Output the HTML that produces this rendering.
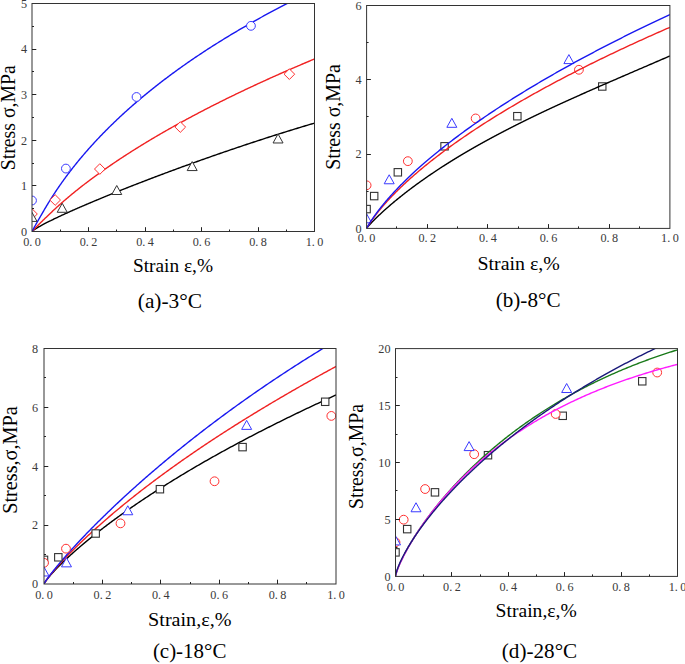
<!DOCTYPE html>
<html><head><meta charset="utf-8"><style>
html,body{margin:0;padding:0;background:#fff;}
body{width:685px;height:664px;overflow:hidden;}
svg{display:block;}
.tl{font-family:"Liberation Serif",serif;font-size:12.2px;fill:#3a3a3a;}
.tt{font-family:"Liberation Serif",serif;font-size:20px;fill:#000;}
</style></head><body>
<svg width="685" height="664" viewBox="0 0 685 664"><rect width="100%" height="100%" fill="#fff"/><clipPath id="clipa"><rect x="32.0" y="3.5" width="282.5" height="228.0"/></clipPath><g clip-path="url(#clipa)"><path d="M32.00 231.50 L32.03 231.45 L32.09 231.38 L32.18 231.29 L32.28 231.19 L32.40 231.09 L32.54 230.97 L32.69 230.84 L32.86 230.71 L33.03 230.58 L33.22 230.43 L33.43 230.29 L33.64 230.13 L33.86 229.98 L34.10 229.81 L34.34 229.65 L34.60 229.48 L34.86 229.30 L35.13 229.12 L35.42 228.94 L35.71 228.76 L36.01 228.57 L36.32 228.38 L36.64 228.18 L36.97 227.98 L37.30 227.78 L37.64 227.58 L38.00 227.37 L38.35 227.16 L38.72 226.95 L39.10 226.73 L39.48 226.52 L39.87 226.30 L40.27 226.07 L40.67 225.85 L41.08 225.62 L41.50 225.39 L41.93 225.16 L42.36 224.92 L42.80 224.69 L43.24 224.45 L43.70 224.21 L44.16 223.96 L44.62 223.72 L45.10 223.47 L45.58 223.22 L46.06 222.97 L46.55 222.71 L47.05 222.46 L47.56 222.20 L48.07 221.94 L48.59 221.68 L49.11 221.42 L49.64 221.15 L50.17 220.88 L50.72 220.62 L51.26 220.34 L51.82 220.07 L52.38 219.80 L52.94 219.52 L53.51 219.25 L54.09 218.97 L54.67 218.69 L55.26 218.40 L55.85 218.12 L56.45 217.83 L57.06 217.55 L57.67 217.26 L58.28 216.97 L58.90 216.67 L59.53 216.38 L60.16 216.09 L60.80 215.79 L61.44 215.49 L62.09 215.19 L62.74 214.89 L63.40 214.59 L64.06 214.28 L64.73 213.97 L65.41 213.67 L66.09 213.36 L66.77 213.05 L67.46 212.74 L68.15 212.42 L68.85 212.11 L69.56 211.79 L70.27 211.47 L70.98 211.15 L71.70 210.83 L72.42 210.51 L73.15 210.19 L73.89 209.86 L74.63 209.54 L75.37 209.21 L76.12 208.88 L76.87 208.55 L77.63 208.22 L78.39 207.89 L79.16 207.55 L79.93 207.22 L80.71 206.88 L81.49 206.54 L82.28 206.20 L83.07 205.86 L83.87 205.52 L84.67 205.18 L85.47 204.83 L86.28 204.49 L87.09 204.14 L87.91 203.79 L88.74 203.44 L89.56 203.09 L90.39 202.74 L91.23 202.39 L92.07 202.04 L92.92 201.68 L93.77 201.32 L94.62 200.97 L95.48 200.61 L96.34 200.25 L97.21 199.89 L98.08 199.52 L98.96 199.16 L99.84 198.80 L100.72 198.43 L101.61 198.06 L102.50 197.70 L103.40 197.33 L104.30 196.96 L105.21 196.58 L106.12 196.21 L107.03 195.84 L107.95 195.46 L108.88 195.09 L109.80 194.71 L110.73 194.33 L111.67 193.96 L112.61 193.58 L113.55 193.20 L114.50 192.81 L115.45 192.43 L116.41 192.05 L117.37 191.66 L118.33 191.28 L119.30 190.89 L120.27 190.50 L121.25 190.11 L122.23 189.72 L123.21 189.33 L124.20 188.94 L125.19 188.55 L126.19 188.15 L127.19 187.76 L128.19 187.36 L129.20 186.97 L130.21 186.57 L131.23 186.17 L132.25 185.77 L133.27 185.37 L134.30 184.97 L135.33 184.57 L136.36 184.16 L137.40 183.76 L138.44 183.35 L139.49 182.95 L140.54 182.54 L141.60 182.14 L142.65 181.73 L143.72 181.32 L144.78 180.91 L145.85 180.50 L146.93 180.09 L148.00 179.67 L149.08 179.26 L150.17 178.85 L151.26 178.43 L152.35 178.02 L153.45 177.60 L154.55 177.18 L155.65 176.77 L156.76 176.35 L157.87 175.93 L158.98 175.51 L160.10 175.09 L161.22 174.67 L162.35 174.24 L163.48 173.82 L164.61 173.40 L165.74 172.97 L166.88 172.55 L168.03 172.12 L169.18 171.69 L170.33 171.27 L171.48 170.84 L172.64 170.41 L173.80 169.98 L174.97 169.55 L176.14 169.12 L177.31 168.69 L178.48 168.26 L179.66 167.83 L180.85 167.40 L182.03 166.96 L183.22 166.53 L184.42 166.09 L185.61 165.66 L186.81 165.22 L188.02 164.79 L189.23 164.35 L190.44 163.91 L191.65 163.47 L192.87 163.04 L194.09 162.60 L195.32 162.16 L196.55 161.72 L197.78 161.28 L199.01 160.84 L200.25 160.40 L201.49 159.95 L202.74 159.51 L203.99 159.07 L205.24 158.63 L206.50 158.18 L207.76 157.74 L209.02 157.30 L210.29 156.85 L211.56 156.41 L212.83 155.96 L214.10 155.51 L215.38 155.07 L216.67 154.62 L217.95 154.17 L219.24 153.73 L220.54 153.28 L221.83 152.83 L223.13 152.38 L224.43 151.94 L225.74 151.49 L227.05 151.04 L228.36 150.59 L229.68 150.14 L231.00 149.69 L232.32 149.24 L233.65 148.79 L234.98 148.34 L236.31 147.89 L237.65 147.44 L238.99 146.99 L240.33 146.54 L241.67 146.09 L243.02 145.63 L244.37 145.18 L245.73 144.73 L247.09 144.28 L248.45 143.83 L249.82 143.37 L251.18 142.92 L252.56 142.47 L253.93 142.02 L255.31 141.57 L256.69 141.11 L258.07 140.66 L259.46 140.21 L260.85 139.76 L262.25 139.30 L263.64 138.85 L265.04 138.40 L266.45 137.95 L267.85 137.49 L269.26 137.04 L270.67 136.59 L272.09 136.14 L273.51 135.69 L274.93 135.23 L276.36 134.78 L277.79 134.33 L279.22 133.88 L280.65 133.43 L282.09 132.98 L283.53 132.52 L284.97 132.07 L286.42 131.62 L287.87 131.17 L289.33 130.72 L290.78 130.27 L292.24 129.82 L293.70 129.37 L295.17 128.92 L296.64 128.47 L298.11 128.02 L299.58 127.58 L301.06 127.13 L302.54 126.68 L304.03 126.23 L305.51 125.79 L307.00 125.34 L308.50 124.89 L309.99 124.45 L311.49 124.00 L312.99 123.55 L314.50 123.11" fill="none" stroke="#000000" stroke-width="1.4" stroke-linejoin="round"/><path d="M32.00 231.50 L32.03 231.46 L32.09 231.38 L32.18 231.28 L32.28 231.16 L32.40 231.03 L32.54 230.88 L32.69 230.71 L32.86 230.53 L33.03 230.34 L33.22 230.14 L33.43 229.92 L33.64 229.70 L33.86 229.46 L34.10 229.22 L34.34 228.96 L34.60 228.70 L34.86 228.42 L35.13 228.14 L35.42 227.85 L35.71 227.56 L36.01 227.25 L36.32 226.94 L36.64 226.61 L36.97 226.29 L37.30 225.95 L37.64 225.61 L38.00 225.25 L38.35 224.90 L38.72 224.53 L39.10 224.16 L39.48 223.78 L39.87 223.40 L40.27 223.01 L40.67 222.61 L41.08 222.21 L41.50 221.80 L41.93 221.38 L42.36 220.96 L42.80 220.53 L43.24 220.10 L43.70 219.66 L44.16 219.22 L44.62 218.77 L45.10 218.31 L45.58 217.85 L46.06 217.38 L46.55 216.91 L47.05 216.43 L47.56 215.95 L48.07 215.46 L48.59 214.96 L49.11 214.46 L49.64 213.96 L50.17 213.45 L50.72 212.94 L51.26 212.42 L51.82 211.89 L52.38 211.37 L52.94 210.84 L53.51 210.31 L54.09 209.77 L54.67 209.23 L55.26 208.69 L55.85 208.15 L56.45 207.60 L57.06 207.05 L57.67 206.50 L58.28 205.94 L58.90 205.39 L59.53 204.83 L60.16 204.26 L60.80 203.70 L61.44 203.13 L62.09 202.56 L62.74 201.99 L63.40 201.42 L64.06 200.84 L64.73 200.27 L65.41 199.69 L66.09 199.11 L66.77 198.52 L67.46 197.94 L68.15 197.35 L68.85 196.76 L69.56 196.17 L70.27 195.58 L70.98 194.99 L71.70 194.40 L72.42 193.80 L73.15 193.20 L73.89 192.60 L74.63 192.00 L75.37 191.40 L76.12 190.80 L76.87 190.19 L77.63 189.58 L78.39 188.98 L79.16 188.37 L79.93 187.76 L80.71 187.15 L81.49 186.53 L82.28 185.92 L83.07 185.31 L83.87 184.69 L84.67 184.07 L85.47 183.46 L86.28 182.84 L87.09 182.22 L87.91 181.60 L88.74 180.98 L89.56 180.35 L90.39 179.73 L91.23 179.11 L92.07 178.48 L92.92 177.85 L93.77 177.23 L94.62 176.60 L95.48 175.97 L96.34 175.34 L97.21 174.71 L98.08 174.08 L98.96 173.45 L99.84 172.82 L100.72 172.19 L101.61 171.55 L102.50 170.92 L103.40 170.28 L104.30 169.65 L105.21 169.01 L106.12 168.38 L107.03 167.74 L107.95 167.10 L108.88 166.46 L109.80 165.83 L110.73 165.19 L111.67 164.55 L112.61 163.91 L113.55 163.27 L114.50 162.63 L115.45 161.98 L116.41 161.34 L117.37 160.70 L118.33 160.06 L119.30 159.42 L120.27 158.77 L121.25 158.13 L122.23 157.49 L123.21 156.84 L124.20 156.20 L125.19 155.55 L126.19 154.91 L127.19 154.26 L128.19 153.62 L129.20 152.97 L130.21 152.32 L131.23 151.68 L132.25 151.03 L133.27 150.38 L134.30 149.74 L135.33 149.09 L136.36 148.44 L137.40 147.79 L138.44 147.15 L139.49 146.50 L140.54 145.85 L141.60 145.20 L142.65 144.55 L143.72 143.90 L144.78 143.25 L145.85 142.60 L146.93 141.96 L148.00 141.31 L149.08 140.66 L150.17 140.01 L151.26 139.36 L152.35 138.71 L153.45 138.06 L154.55 137.41 L155.65 136.76 L156.76 136.11 L157.87 135.46 L158.98 134.81 L160.10 134.16 L161.22 133.51 L162.35 132.86 L163.48 132.21 L164.61 131.56 L165.74 130.91 L166.88 130.26 L168.03 129.61 L169.18 128.96 L170.33 128.31 L171.48 127.66 L172.64 127.01 L173.80 126.36 L174.97 125.71 L176.14 125.06 L177.31 124.41 L178.48 123.76 L179.66 123.11 L180.85 122.46 L182.03 121.81 L183.22 121.16 L184.42 120.51 L185.61 119.86 L186.81 119.21 L188.02 118.56 L189.23 117.91 L190.44 117.26 L191.65 116.61 L192.87 115.96 L194.09 115.31 L195.32 114.66 L196.55 114.02 L197.78 113.37 L199.01 112.72 L200.25 112.07 L201.49 111.42 L202.74 110.77 L203.99 110.13 L205.24 109.48 L206.50 108.83 L207.76 108.18 L209.02 107.53 L210.29 106.89 L211.56 106.24 L212.83 105.59 L214.10 104.95 L215.38 104.30 L216.67 103.65 L217.95 103.01 L219.24 102.36 L220.54 101.72 L221.83 101.07 L223.13 100.42 L224.43 99.78 L225.74 99.13 L227.05 98.49 L228.36 97.84 L229.68 97.20 L231.00 96.55 L232.32 95.91 L233.65 95.27 L234.98 94.62 L236.31 93.98 L237.65 93.34 L238.99 92.69 L240.33 92.05 L241.67 91.41 L243.02 90.76 L244.37 90.12 L245.73 89.48 L247.09 88.84 L248.45 88.20 L249.82 87.56 L251.18 86.91 L252.56 86.27 L253.93 85.63 L255.31 84.99 L256.69 84.35 L258.07 83.71 L259.46 83.07 L260.85 82.43 L262.25 81.79 L263.64 81.15 L265.04 80.52 L266.45 79.88 L267.85 79.24 L269.26 78.60 L270.67 77.96 L272.09 77.33 L273.51 76.69 L274.93 76.05 L276.36 75.42 L277.79 74.78 L279.22 74.14 L280.65 73.51 L282.09 72.87 L283.53 72.24 L284.97 71.60 L286.42 70.97 L287.87 70.33 L289.33 69.70 L290.78 69.06 L292.24 68.43 L293.70 67.80 L295.17 67.16 L296.64 66.53 L298.11 65.90 L299.58 65.27 L301.06 64.64 L302.54 64.00 L304.03 63.37 L305.51 62.74 L307.00 62.11 L308.50 61.48 L309.99 60.85 L311.49 60.22 L312.99 59.59 L314.50 58.96" fill="none" stroke="#f02222" stroke-width="1.4" stroke-linejoin="round"/><path d="M32.00 231.50 L32.03 231.44 L32.09 231.31 L32.18 231.15 L32.28 230.94 L32.40 230.71 L32.54 230.46 L32.69 230.17 L32.86 229.87 L33.03 229.54 L33.22 229.19 L33.43 228.82 L33.64 228.44 L33.86 228.03 L34.10 227.61 L34.34 227.17 L34.60 226.71 L34.86 226.24 L35.13 225.75 L35.42 225.24 L35.71 224.72 L36.01 224.19 L36.32 223.64 L36.64 223.08 L36.97 222.50 L37.30 221.91 L37.64 221.31 L38.00 220.69 L38.35 220.06 L38.72 219.42 L39.10 218.77 L39.48 218.10 L39.87 217.43 L40.27 216.74 L40.67 216.03 L41.08 215.32 L41.50 214.60 L41.93 213.86 L42.36 213.12 L42.80 212.36 L43.24 211.59 L43.70 210.81 L44.16 210.02 L44.62 209.22 L45.10 208.41 L45.58 207.60 L46.06 206.78 L46.55 205.95 L47.05 205.12 L47.56 204.28 L48.07 203.44 L48.59 202.60 L49.11 201.74 L49.64 200.89 L50.17 200.03 L50.72 199.17 L51.26 198.30 L51.82 197.43 L52.38 196.56 L52.94 195.68 L53.51 194.80 L54.09 193.92 L54.67 193.03 L55.26 192.14 L55.85 191.25 L56.45 190.35 L57.06 189.46 L57.67 188.56 L58.28 187.66 L58.90 186.75 L59.53 185.85 L60.16 184.94 L60.80 184.03 L61.44 183.12 L62.09 182.21 L62.74 181.29 L63.40 180.37 L64.06 179.46 L64.73 178.54 L65.41 177.62 L66.09 176.70 L66.77 175.78 L67.46 174.85 L68.15 173.93 L68.85 173.01 L69.56 172.08 L70.27 171.15 L70.98 170.23 L71.70 169.30 L72.42 168.37 L73.15 167.44 L73.89 166.51 L74.63 165.58 L75.37 164.65 L76.12 163.72 L76.87 162.79 L77.63 161.86 L78.39 160.93 L79.16 160.00 L79.93 159.06 L80.71 158.13 L81.49 157.20 L82.28 156.27 L83.07 155.34 L83.87 154.41 L84.67 153.47 L85.47 152.54 L86.28 151.61 L87.09 150.68 L87.91 149.75 L88.74 148.82 L89.56 147.89 L90.39 146.96 L91.23 146.03 L92.07 145.10 L92.92 144.17 L93.77 143.24 L94.62 142.32 L95.48 141.39 L96.34 140.46 L97.21 139.54 L98.08 138.61 L98.96 137.68 L99.84 136.76 L100.72 135.84 L101.61 134.91 L102.50 133.99 L103.40 133.07 L104.30 132.15 L105.21 131.22 L106.12 130.30 L107.03 129.39 L107.95 128.47 L108.88 127.55 L109.80 126.63 L110.73 125.72 L111.67 124.80 L112.61 123.89 L113.55 122.97 L114.50 122.06 L115.45 121.15 L116.41 120.24 L117.37 119.33 L118.33 118.42 L119.30 117.51 L120.27 116.60 L121.25 115.69 L122.23 114.79 L123.21 113.88 L124.20 112.98 L125.19 112.08 L126.19 111.17 L127.19 110.27 L128.19 109.37 L129.20 108.47 L130.21 107.58 L131.23 106.68 L132.25 105.78 L133.27 104.89 L134.30 104.00 L135.33 103.10 L136.36 102.21 L137.40 101.32 L138.44 100.43 L139.49 99.54 L140.54 98.66 L141.60 97.77 L142.65 96.89 L143.72 96.00 L144.78 95.12 L145.85 94.24 L146.93 93.36 L148.00 92.48 L149.08 91.60 L150.17 90.72 L151.26 89.85 L152.35 88.97 L153.45 88.10 L154.55 87.23 L155.65 86.36 L156.76 85.49 L157.87 84.62 L158.98 83.75 L160.10 82.88 L161.22 82.02 L162.35 81.15 L163.48 80.29 L164.61 79.43 L165.74 78.57 L166.88 77.71 L168.03 76.85 L169.18 75.99 L170.33 75.14 L171.48 74.28 L172.64 73.43 L173.80 72.58 L174.97 71.73 L176.14 70.88 L177.31 70.03 L178.48 69.18 L179.66 68.33 L180.85 67.49 L182.03 66.65 L183.22 65.80 L184.42 64.96 L185.61 64.12 L186.81 63.28 L188.02 62.45 L189.23 61.61 L190.44 60.77 L191.65 59.94 L192.87 59.11 L194.09 58.28 L195.32 57.45 L196.55 56.62 L197.78 55.79 L199.01 54.96 L200.25 54.14 L201.49 53.31 L202.74 52.49 L203.99 51.67 L205.24 50.85 L206.50 50.03 L207.76 49.21 L209.02 48.40 L210.29 47.58 L211.56 46.77 L212.83 45.95 L214.10 45.14 L215.38 44.33 L216.67 43.52 L217.95 42.72 L219.24 41.91 L220.54 41.10 L221.83 40.30 L223.13 39.50 L224.43 38.69 L225.74 37.89 L227.05 37.09 L228.36 36.30 L229.68 35.50 L231.00 34.70 L232.32 33.91 L233.65 33.12 L234.98 32.32 L236.31 31.53 L237.65 30.74 L238.99 29.96 L240.33 29.17 L241.67 28.38 L243.02 27.60 L244.37 26.82 L245.73 26.03 L247.09 25.25 L248.45 24.47 L249.82 23.69 L251.18 22.92 L252.56 22.14 L253.93 21.37 L255.31 20.59 L256.69 19.82 L258.07 19.05 L259.46 18.28 L260.85 17.51 L262.25 16.74 L263.64 15.98 L265.04 15.21 L266.45 14.45 L267.85 13.69 L269.26 12.92 L270.67 12.16 L272.09 11.40 L273.51 10.65 L274.93 9.89 L276.36 9.13 L277.79 8.38 L279.22 7.63 L280.65 6.87 L282.09 6.12 L283.53 5.37 L284.97 4.63 L286.42 3.88 L287.87 3.13 L289.33 2.39 L290.78 1.64 L292.24 0.90 L293.70 0.16 L295.17 -0.58 L296.64 -1.32 L298.11 -2.06 L299.58 -2.79 L301.06 -3.53 L302.54 -4.26 L304.03 -5.00 L305.51 -5.73 L307.00 -6.46 L308.50 -7.19 L309.99 -7.92 L311.49 -8.65 L312.99 -9.37 L314.50 -10.10" fill="none" stroke="#1818f0" stroke-width="1.4" stroke-linejoin="round"/><circle cx="32.00" cy="200.49" r="4.4" fill="#fff" stroke="#3a3aff" stroke-width="1.0"/><circle cx="65.90" cy="168.57" r="4.4" fill="#fff" stroke="#3a3aff" stroke-width="1.0"/><circle cx="136.53" cy="96.98" r="4.4" fill="#fff" stroke="#3a3aff" stroke-width="1.0"/><circle cx="250.94" cy="25.84" r="4.4" fill="#fff" stroke="#3a3aff" stroke-width="1.0"/><path d="M32.00 208.69L37.30 213.99L32.00 219.29L26.70 213.99Z" fill="#fff" stroke="#ff3030" stroke-width="1.0"/><path d="M55.17 194.74L60.47 200.04L55.17 205.34L49.87 200.04Z" fill="#fff" stroke="#ff3030" stroke-width="1.0"/><path d="M99.80 163.73L105.10 169.03L99.80 174.33L94.50 169.03Z" fill="#fff" stroke="#ff3030" stroke-width="1.0"/><path d="M180.31 121.78L185.61 127.08L180.31 132.38L175.01 127.08Z" fill="#fff" stroke="#ff3030" stroke-width="1.0"/><path d="M289.36 68.88L294.66 74.18L289.36 79.48L284.06 74.18Z" fill="#fff" stroke="#ff3030" stroke-width="1.0"/><path d="M32.00 212.41L37.00 221.41L27.00 221.41Z" fill="#fff" stroke="#333333" stroke-width="1.0"/><path d="M62.23 203.29L67.23 212.29L57.23 212.29Z" fill="#fff" stroke="#333333" stroke-width="1.0"/><path d="M116.75 185.51L121.75 194.51L111.75 194.51Z" fill="#fff" stroke="#333333" stroke-width="1.0"/><path d="M192.18 161.57L197.18 170.57L187.18 170.57Z" fill="#fff" stroke="#333333" stroke-width="1.0"/><path d="M278.06 133.98L283.06 142.98L273.06 142.98Z" fill="#fff" stroke="#333333" stroke-width="1.0"/></g><rect x="32.0" y="3.5" width="282.5" height="228.0" fill="none" stroke="#333" stroke-width="1.0"/><path d="M60.50 231.5V229.5 M88.50 231.5V227.2 M116.50 231.5V229.5 M145.50 231.5V227.2 M173.50 231.5V229.5 M201.50 231.5V227.2 M229.50 231.5V229.5 M258.50 231.5V227.2 M286.50 231.5V229.5 M32.0 208.50H34.0 M32.0 185.50H36.3 M32.0 163.50H34.0 M32.0 140.50H36.3 M32.0 117.50H34.0 M32.0 94.50H36.3 M32.0 71.50H34.0 M32.0 49.50H36.3 M32.0 26.50H34.0" stroke="#222" stroke-width="1.0" fill="none"/><text x="32.00" y="246.10" class="tl" text-anchor="middle">0. 0</text><text x="88.50" y="246.10" class="tl" text-anchor="middle">0. 2</text><text x="145.00" y="246.10" class="tl" text-anchor="middle">0. 4</text><text x="201.50" y="246.10" class="tl" text-anchor="middle">0. 6</text><text x="258.00" y="246.10" class="tl" text-anchor="middle">0. 8</text><text x="314.50" y="246.10" class="tl" text-anchor="middle">1. 0</text><text x="27.00" y="235.80" class="tl" text-anchor="end">0</text><text x="27.00" y="190.20" class="tl" text-anchor="end">1</text><text x="27.00" y="144.60" class="tl" text-anchor="end">2</text><text x="27.00" y="99.00" class="tl" text-anchor="end">3</text><text x="27.00" y="53.40" class="tl" text-anchor="end">4</text><text x="27.00" y="7.80" class="tl" text-anchor="end">5</text><clipPath id="clipb"><rect x="366.6" y="5.5" width="303.29999999999995" height="222.9"/></clipPath><g clip-path="url(#clipb)"><rect x="362.90" y="205.38" width="7.40" height="7.40" fill="#fff" stroke="#333333" stroke-width="1.1"/><rect x="370.48" y="192.38" width="7.40" height="7.40" fill="#fff" stroke="#333333" stroke-width="1.1"/><rect x="394.14" y="168.60" width="7.40" height="7.40" fill="#fff" stroke="#333333" stroke-width="1.1"/><rect x="440.85" y="142.60" width="7.40" height="7.40" fill="#fff" stroke="#333333" stroke-width="1.1"/><rect x="513.64" y="112.51" width="7.40" height="7.40" fill="#fff" stroke="#333333" stroke-width="1.1"/><rect x="598.56" y="82.79" width="7.40" height="7.40" fill="#fff" stroke="#333333" stroke-width="1.1"/><circle cx="366.60" cy="185.31" r="4.4" fill="#fff" stroke="#ff3030" stroke-width="1.0"/><circle cx="407.85" cy="161.16" r="4.4" fill="#fff" stroke="#ff3030" stroke-width="1.0"/><circle cx="475.64" cy="118.44" r="4.4" fill="#fff" stroke="#ff3030" stroke-width="1.0"/><circle cx="578.91" cy="69.77" r="4.4" fill="#fff" stroke="#ff3030" stroke-width="1.0"/><path d="M366.60 213.79L371.60 222.79L361.60 222.79Z" fill="#fff" stroke="#3a3aff" stroke-width="1.0"/><path d="M389.20 174.78L394.20 183.78L384.20 183.78Z" fill="#fff" stroke="#3a3aff" stroke-width="1.0"/><path d="M451.83 118.32L456.83 127.32L446.83 127.32Z" fill="#fff" stroke="#3a3aff" stroke-width="1.0"/><path d="M568.90 54.60L573.90 63.60L563.90 63.60Z" fill="#fff" stroke="#3a3aff" stroke-width="1.0"/><path d="M366.60 228.40 L366.63 228.34 L366.70 228.23 L366.79 228.10 L366.90 227.94 L367.03 227.77 L367.18 227.57 L367.34 227.37 L367.52 227.15 L367.71 226.92 L367.91 226.67 L368.13 226.42 L368.36 226.15 L368.60 225.87 L368.85 225.59 L369.11 225.29 L369.39 224.99 L369.67 224.67 L369.96 224.35 L370.27 224.02 L370.58 223.68 L370.91 223.34 L371.24 222.98 L371.58 222.62 L371.93 222.26 L372.29 221.88 L372.66 221.50 L373.04 221.12 L373.42 220.72 L373.82 220.32 L374.22 219.92 L374.63 219.51 L375.05 219.09 L375.47 218.67 L375.91 218.24 L376.35 217.81 L376.80 217.37 L377.26 216.93 L377.72 216.48 L378.19 216.03 L378.67 215.57 L379.16 215.11 L379.65 214.65 L380.15 214.18 L380.66 213.71 L381.18 213.23 L381.70 212.75 L382.23 212.26 L382.76 211.77 L383.30 211.28 L383.85 210.78 L384.41 210.28 L384.97 209.78 L385.54 209.27 L386.11 208.76 L386.69 208.25 L387.28 207.73 L387.88 207.21 L388.48 206.69 L389.08 206.16 L389.70 205.64 L390.31 205.10 L390.94 204.57 L391.57 204.03 L392.21 203.49 L392.85 202.95 L393.50 202.41 L394.15 201.86 L394.82 201.31 L395.48 200.76 L396.16 200.20 L396.83 199.65 L397.52 199.09 L398.21 198.53 L398.90 197.96 L399.60 197.40 L400.31 196.83 L401.02 196.26 L401.74 195.69 L402.47 195.12 L403.20 194.54 L403.93 193.97 L404.67 193.39 L405.42 192.81 L406.17 192.23 L406.92 191.64 L407.68 191.06 L408.45 190.47 L409.22 189.88 L410.00 189.29 L410.78 188.70 L411.57 188.11 L412.37 187.52 L413.16 186.92 L413.97 186.33 L414.78 185.73 L415.59 185.13 L416.41 184.53 L417.23 183.93 L418.06 183.33 L418.90 182.73 L419.74 182.12 L420.58 181.52 L421.43 180.91 L422.28 180.31 L423.14 179.70 L424.01 179.09 L424.88 178.48 L425.75 177.87 L426.63 177.26 L427.51 176.65 L428.40 176.04 L429.29 175.42 L430.19 174.81 L431.10 174.20 L432.00 173.58 L432.91 172.97 L433.83 172.35 L434.75 171.73 L435.68 171.11 L436.61 170.50 L437.55 169.88 L438.49 169.26 L439.43 168.64 L440.38 168.02 L441.34 167.40 L442.30 166.78 L443.26 166.16 L444.23 165.54 L445.20 164.92 L446.18 164.29 L447.16 163.67 L448.14 163.05 L449.14 162.43 L450.13 161.80 L451.13 161.18 L452.13 160.56 L453.14 159.93 L454.16 159.31 L455.17 158.68 L456.19 158.06 L457.22 157.44 L458.25 156.81 L459.29 156.19 L460.33 155.56 L461.37 154.94 L462.42 154.31 L463.47 153.69 L464.53 153.06 L465.59 152.44 L466.65 151.81 L467.72 151.18 L468.79 150.56 L469.87 149.93 L470.95 149.31 L472.04 148.68 L473.13 148.06 L474.23 147.43 L475.33 146.81 L476.43 146.18 L477.54 145.55 L478.65 144.93 L479.76 144.30 L480.88 143.68 L482.01 143.05 L483.13 142.43 L484.27 141.80 L485.40 141.18 L486.54 140.55 L487.69 139.93 L488.84 139.30 L489.99 138.68 L491.14 138.05 L492.30 137.43 L493.47 136.80 L494.64 136.18 L495.81 135.55 L496.99 134.93 L498.17 134.30 L499.35 133.68 L500.54 133.05 L501.73 132.43 L502.93 131.80 L504.13 131.18 L505.34 130.56 L506.54 129.93 L507.76 129.31 L508.97 128.68 L510.19 128.06 L511.42 127.44 L512.64 126.81 L513.88 126.19 L515.11 125.56 L516.35 124.94 L517.59 124.32 L518.84 123.69 L520.09 123.07 L521.35 122.45 L522.61 121.82 L523.87 121.20 L525.14 120.58 L526.41 119.95 L527.68 119.33 L528.96 118.71 L530.24 118.08 L531.52 117.46 L532.81 116.83 L534.11 116.21 L535.40 115.59 L536.70 114.96 L538.01 114.34 L539.32 113.71 L540.63 113.09 L541.94 112.47 L543.26 111.84 L544.58 111.22 L545.91 110.59 L547.24 109.97 L548.57 109.34 L549.91 108.72 L551.25 108.09 L552.60 107.47 L553.95 106.84 L555.30 106.21 L556.65 105.59 L558.01 104.96 L559.38 104.34 L560.74 103.71 L562.11 103.08 L563.49 102.45 L564.86 101.83 L566.24 101.20 L567.63 100.57 L569.02 99.94 L570.41 99.31 L571.80 98.68 L573.20 98.05 L574.61 97.42 L576.01 96.79 L577.42 96.16 L578.83 95.53 L580.25 94.89 L581.67 94.26 L583.10 93.63 L584.52 92.99 L585.95 92.36 L587.39 91.72 L588.83 91.09 L590.27 90.45 L591.71 89.81 L593.16 89.18 L594.61 88.54 L596.07 87.90 L597.53 87.26 L598.99 86.62 L600.45 85.98 L601.92 85.34 L603.39 84.69 L604.87 84.05 L606.35 83.41 L607.83 82.76 L609.32 82.12 L610.81 81.47 L612.30 80.82 L613.80 80.17 L615.30 79.52 L616.80 78.87 L618.31 78.22 L619.82 77.57 L621.33 76.91 L622.85 76.26 L624.37 75.60 L625.89 74.94 L627.42 74.28 L628.95 73.62 L630.48 72.96 L632.02 72.30 L633.56 71.64 L635.10 70.97 L636.65 70.31 L638.20 69.64 L639.75 68.97 L641.31 68.30 L642.87 67.63 L644.44 66.96 L646.00 66.28 L647.57 65.61 L649.15 64.93 L650.72 64.25 L652.30 63.57 L653.89 62.88 L655.47 62.20 L657.06 61.51 L658.66 60.83 L660.25 60.14 L661.85 59.45 L663.46 58.75 L665.06 58.06 L666.67 57.36 L668.28 56.66 L669.90 55.96" fill="none" stroke="#000000" stroke-width="1.4" stroke-linejoin="round"/><path d="M366.60 228.40 L366.63 228.32 L366.70 228.18 L366.79 228.00 L366.90 227.80 L367.03 227.56 L367.18 227.31 L367.34 227.03 L367.52 226.74 L367.71 226.42 L367.91 226.10 L368.13 225.75 L368.36 225.39 L368.60 225.02 L368.85 224.63 L369.11 224.23 L369.39 223.82 L369.67 223.39 L369.96 222.95 L370.27 222.51 L370.58 222.05 L370.91 221.58 L371.24 221.10 L371.58 220.61 L371.93 220.11 L372.29 219.60 L372.66 219.08 L373.04 218.55 L373.42 218.01 L373.82 217.47 L374.22 216.93 L374.63 216.37 L375.05 215.81 L375.47 215.25 L375.91 214.68 L376.35 214.11 L376.80 213.53 L377.26 212.94 L377.72 212.35 L378.19 211.76 L378.67 211.17 L379.16 210.56 L379.65 209.96 L380.15 209.35 L380.66 208.74 L381.18 208.12 L381.70 207.50 L382.23 206.88 L382.76 206.26 L383.30 205.63 L383.85 205.00 L384.41 204.36 L384.97 203.73 L385.54 203.09 L386.11 202.44 L386.69 201.80 L387.28 201.15 L387.88 200.50 L388.48 199.85 L389.08 199.20 L389.70 198.54 L390.31 197.88 L390.94 197.22 L391.57 196.56 L392.21 195.89 L392.85 195.23 L393.50 194.56 L394.15 193.89 L394.82 193.22 L395.48 192.54 L396.16 191.87 L396.83 191.19 L397.52 190.51 L398.21 189.83 L398.90 189.15 L399.60 188.47 L400.31 187.79 L401.02 187.10 L401.74 186.41 L402.47 185.73 L403.20 185.04 L403.93 184.35 L404.67 183.66 L405.42 182.96 L406.17 182.27 L406.92 181.57 L407.68 180.88 L408.45 180.18 L409.22 179.48 L410.00 178.78 L410.78 178.08 L411.57 177.38 L412.37 176.68 L413.16 175.98 L413.97 175.28 L414.78 174.57 L415.59 173.87 L416.41 173.16 L417.23 172.46 L418.06 171.75 L418.90 171.04 L419.74 170.33 L420.58 169.62 L421.43 168.91 L422.28 168.20 L423.14 167.49 L424.01 166.78 L424.88 166.07 L425.75 165.35 L426.63 164.64 L427.51 163.93 L428.40 163.21 L429.29 162.50 L430.19 161.78 L431.10 161.07 L432.00 160.35 L432.91 159.63 L433.83 158.92 L434.75 158.20 L435.68 157.48 L436.61 156.76 L437.55 156.04 L438.49 155.32 L439.43 154.60 L440.38 153.88 L441.34 153.16 L442.30 152.44 L443.26 151.72 L444.23 151.00 L445.20 150.28 L446.18 149.56 L447.16 148.83 L448.14 148.11 L449.14 147.39 L450.13 146.67 L451.13 145.94 L452.13 145.22 L453.14 144.50 L454.16 143.77 L455.17 143.05 L456.19 142.33 L457.22 141.60 L458.25 140.88 L459.29 140.15 L460.33 139.43 L461.37 138.70 L462.42 137.98 L463.47 137.25 L464.53 136.53 L465.59 135.80 L466.65 135.08 L467.72 134.35 L468.79 133.63 L469.87 132.90 L470.95 132.17 L472.04 131.45 L473.13 130.72 L474.23 130.00 L475.33 129.27 L476.43 128.54 L477.54 127.82 L478.65 127.09 L479.76 126.37 L480.88 125.64 L482.01 124.91 L483.13 124.19 L484.27 123.46 L485.40 122.73 L486.54 122.01 L487.69 121.28 L488.84 120.56 L489.99 119.83 L491.14 119.10 L492.30 118.38 L493.47 117.65 L494.64 116.92 L495.81 116.20 L496.99 115.47 L498.17 114.75 L499.35 114.02 L500.54 113.29 L501.73 112.57 L502.93 111.84 L504.13 111.12 L505.34 110.39 L506.54 109.66 L507.76 108.94 L508.97 108.21 L510.19 107.49 L511.42 106.76 L512.64 106.04 L513.88 105.31 L515.11 104.59 L516.35 103.86 L517.59 103.14 L518.84 102.41 L520.09 101.69 L521.35 100.96 L522.61 100.24 L523.87 99.51 L525.14 98.79 L526.41 98.07 L527.68 97.34 L528.96 96.62 L530.24 95.89 L531.52 95.17 L532.81 94.45 L534.11 93.72 L535.40 93.00 L536.70 92.28 L538.01 91.56 L539.32 90.83 L540.63 90.11 L541.94 89.39 L543.26 88.67 L544.58 87.94 L545.91 87.22 L547.24 86.50 L548.57 85.78 L549.91 85.06 L551.25 84.34 L552.60 83.61 L553.95 82.89 L555.30 82.17 L556.65 81.45 L558.01 80.73 L559.38 80.01 L560.74 79.29 L562.11 78.57 L563.49 77.85 L564.86 77.13 L566.24 76.41 L567.63 75.69 L569.02 74.98 L570.41 74.26 L571.80 73.54 L573.20 72.82 L574.61 72.10 L576.01 71.38 L577.42 70.67 L578.83 69.95 L580.25 69.23 L581.67 68.51 L583.10 67.80 L584.52 67.08 L585.95 66.36 L587.39 65.65 L588.83 64.93 L590.27 64.22 L591.71 63.50 L593.16 62.79 L594.61 62.07 L596.07 61.36 L597.53 60.64 L598.99 59.93 L600.45 59.21 L601.92 58.50 L603.39 57.78 L604.87 57.07 L606.35 56.36 L607.83 55.64 L609.32 54.93 L610.81 54.22 L612.30 53.51 L613.80 52.79 L615.30 52.08 L616.80 51.37 L618.31 50.66 L619.82 49.95 L621.33 49.24 L622.85 48.53 L624.37 47.82 L625.89 47.11 L627.42 46.40 L628.95 45.69 L630.48 44.98 L632.02 44.27 L633.56 43.56 L635.10 42.85 L636.65 42.14 L638.20 41.43 L639.75 40.73 L641.31 40.02 L642.87 39.31 L644.44 38.60 L646.00 37.90 L647.57 37.19 L649.15 36.48 L650.72 35.78 L652.30 35.07 L653.89 34.36 L655.47 33.66 L657.06 32.95 L658.66 32.25 L660.25 31.54 L661.85 30.84 L663.46 30.14 L665.06 29.43 L666.67 28.73 L668.28 28.03 L669.90 27.32" fill="none" stroke="#f02222" stroke-width="1.4" stroke-linejoin="round"/><path d="M366.60 228.40 L366.63 228.32 L366.70 228.17 L366.79 227.98 L366.90 227.77 L367.03 227.52 L367.18 227.25 L367.34 226.96 L367.52 226.65 L367.71 226.32 L367.91 225.98 L368.13 225.62 L368.36 225.24 L368.60 224.85 L368.85 224.44 L369.11 224.02 L369.39 223.58 L369.67 223.14 L369.96 222.68 L370.27 222.21 L370.58 221.72 L370.91 221.23 L371.24 220.72 L371.58 220.21 L371.93 219.68 L372.29 219.14 L372.66 218.60 L373.04 218.04 L373.42 217.48 L373.82 216.91 L374.22 216.33 L374.63 215.75 L375.05 215.16 L375.47 214.57 L375.91 213.97 L376.35 213.36 L376.80 212.75 L377.26 212.14 L377.72 211.52 L378.19 210.90 L378.67 210.27 L379.16 209.63 L379.65 209.00 L380.15 208.35 L380.66 207.71 L381.18 207.06 L381.70 206.41 L382.23 205.75 L382.76 205.09 L383.30 204.43 L383.85 203.76 L384.41 203.09 L384.97 202.42 L385.54 201.75 L386.11 201.07 L386.69 200.39 L387.28 199.70 L387.88 199.02 L388.48 198.33 L389.08 197.64 L389.70 196.94 L390.31 196.25 L390.94 195.55 L391.57 194.85 L392.21 194.15 L392.85 193.44 L393.50 192.74 L394.15 192.03 L394.82 191.32 L395.48 190.61 L396.16 189.89 L396.83 189.18 L397.52 188.46 L398.21 187.74 L398.90 187.02 L399.60 186.30 L400.31 185.58 L401.02 184.85 L401.74 184.13 L402.47 183.40 L403.20 182.67 L403.93 181.94 L404.67 181.21 L405.42 180.47 L406.17 179.74 L406.92 179.00 L407.68 178.27 L408.45 177.53 L409.22 176.79 L410.00 176.05 L410.78 175.31 L411.57 174.57 L412.37 173.82 L413.16 173.08 L413.97 172.33 L414.78 171.59 L415.59 170.84 L416.41 170.09 L417.23 169.34 L418.06 168.59 L418.90 167.84 L419.74 167.09 L420.58 166.34 L421.43 165.59 L422.28 164.83 L423.14 164.08 L424.01 163.32 L424.88 162.57 L425.75 161.81 L426.63 161.06 L427.51 160.30 L428.40 159.54 L429.29 158.78 L430.19 158.02 L431.10 157.26 L432.00 156.50 L432.91 155.74 L433.83 154.98 L434.75 154.22 L435.68 153.46 L436.61 152.69 L437.55 151.93 L438.49 151.17 L439.43 150.40 L440.38 149.64 L441.34 148.87 L442.30 148.11 L443.26 147.34 L444.23 146.58 L445.20 145.81 L446.18 145.04 L447.16 144.27 L448.14 143.51 L449.14 142.74 L450.13 141.97 L451.13 141.20 L452.13 140.43 L453.14 139.67 L454.16 138.90 L455.17 138.13 L456.19 137.36 L457.22 136.59 L458.25 135.82 L459.29 135.05 L460.33 134.28 L461.37 133.50 L462.42 132.73 L463.47 131.96 L464.53 131.19 L465.59 130.42 L466.65 129.65 L467.72 128.88 L468.79 128.10 L469.87 127.33 L470.95 126.56 L472.04 125.79 L473.13 125.01 L474.23 124.24 L475.33 123.47 L476.43 122.69 L477.54 121.92 L478.65 121.15 L479.76 120.38 L480.88 119.60 L482.01 118.83 L483.13 118.06 L484.27 117.28 L485.40 116.51 L486.54 115.73 L487.69 114.96 L488.84 114.19 L489.99 113.41 L491.14 112.64 L492.30 111.87 L493.47 111.09 L494.64 110.32 L495.81 109.54 L496.99 108.77 L498.17 108.00 L499.35 107.22 L500.54 106.45 L501.73 105.68 L502.93 104.90 L504.13 104.13 L505.34 103.35 L506.54 102.58 L507.76 101.81 L508.97 101.03 L510.19 100.26 L511.42 99.49 L512.64 98.71 L513.88 97.94 L515.11 97.17 L516.35 96.39 L517.59 95.62 L518.84 94.85 L520.09 94.07 L521.35 93.30 L522.61 92.53 L523.87 91.76 L525.14 90.98 L526.41 90.21 L527.68 89.44 L528.96 88.66 L530.24 87.89 L531.52 87.12 L532.81 86.35 L534.11 85.58 L535.40 84.80 L536.70 84.03 L538.01 83.26 L539.32 82.49 L540.63 81.72 L541.94 80.95 L543.26 80.18 L544.58 79.40 L545.91 78.63 L547.24 77.86 L548.57 77.09 L549.91 76.32 L551.25 75.55 L552.60 74.78 L553.95 74.01 L555.30 73.24 L556.65 72.47 L558.01 71.70 L559.38 70.93 L560.74 70.16 L562.11 69.39 L563.49 68.62 L564.86 67.85 L566.24 67.09 L567.63 66.32 L569.02 65.55 L570.41 64.78 L571.80 64.01 L573.20 63.25 L574.61 62.48 L576.01 61.71 L577.42 60.94 L578.83 60.18 L580.25 59.41 L581.67 58.64 L583.10 57.88 L584.52 57.11 L585.95 56.34 L587.39 55.58 L588.83 54.81 L590.27 54.05 L591.71 53.28 L593.16 52.51 L594.61 51.75 L596.07 50.99 L597.53 50.22 L598.99 49.46 L600.45 48.69 L601.92 47.93 L603.39 47.16 L604.87 46.40 L606.35 45.64 L607.83 44.87 L609.32 44.11 L610.81 43.35 L612.30 42.59 L613.80 41.82 L615.30 41.06 L616.80 40.30 L618.31 39.54 L619.82 38.78 L621.33 38.02 L622.85 37.25 L624.37 36.49 L625.89 35.73 L627.42 34.97 L628.95 34.21 L630.48 33.45 L632.02 32.69 L633.56 31.93 L635.10 31.18 L636.65 30.42 L638.20 29.66 L639.75 28.90 L641.31 28.14 L642.87 27.38 L644.44 26.63 L646.00 25.87 L647.57 25.11 L649.15 24.35 L650.72 23.60 L652.30 22.84 L653.89 22.08 L655.47 21.33 L657.06 20.57 L658.66 19.82 L660.25 19.06 L661.85 18.31 L663.46 17.55 L665.06 16.80 L666.67 16.04 L668.28 15.29 L669.90 14.54" fill="none" stroke="#1818f0" stroke-width="1.4" stroke-linejoin="round"/></g><rect x="366.6" y="5.5" width="303.29999999999995" height="222.9" fill="none" stroke="#333" stroke-width="1.0"/><path d="M396.50 228.4V226.4 M427.50 228.4V224.1 M457.50 228.4V226.4 M487.50 228.4V224.1 M518.50 228.4V226.4 M548.50 228.4V224.1 M578.50 228.4V226.4 M609.50 228.4V224.1 M639.50 228.4V226.4 M366.6 191.50H368.6 M366.6 154.50H370.90000000000003 M366.6 116.50H368.6 M366.6 79.50H370.90000000000003 M366.6 42.50H368.6" stroke="#222" stroke-width="1.0" fill="none"/><text x="366.60" y="242.20" class="tl" text-anchor="middle">0. 0</text><text x="427.26" y="242.20" class="tl" text-anchor="middle">0. 2</text><text x="487.92" y="242.20" class="tl" text-anchor="middle">0. 4</text><text x="548.58" y="242.20" class="tl" text-anchor="middle">0. 6</text><text x="609.24" y="242.20" class="tl" text-anchor="middle">0. 8</text><text x="669.90" y="242.20" class="tl" text-anchor="middle">1. 0</text><text x="361.60" y="232.70" class="tl" text-anchor="end">0</text><text x="361.60" y="158.40" class="tl" text-anchor="end">2</text><text x="361.60" y="84.10" class="tl" text-anchor="end">4</text><text x="361.60" y="9.80" class="tl" text-anchor="end">6</text><clipPath id="clipc"><rect x="44.0" y="348.5" width="292.0" height="235.5"/></clipPath><g clip-path="url(#clipc)"><path d="M44.00 584.00 L44.03 583.90 L44.10 583.75 L44.18 583.57 L44.29 583.37 L44.42 583.14 L44.56 582.90 L44.71 582.65 L44.88 582.38 L45.07 582.10 L45.26 581.80 L45.47 581.50 L45.69 581.18 L45.92 580.86 L46.17 580.53 L46.42 580.19 L46.68 579.84 L46.96 579.48 L47.24 579.11 L47.53 578.74 L47.83 578.36 L48.15 577.97 L48.47 577.58 L48.79 577.18 L49.13 576.78 L49.48 576.36 L49.83 575.95 L50.20 575.52 L50.57 575.09 L50.95 574.66 L51.33 574.22 L51.73 573.77 L52.13 573.32 L52.54 572.87 L52.96 572.41 L53.39 571.94 L53.82 571.47 L54.26 571.00 L54.71 570.52 L55.16 570.04 L55.62 569.55 L56.09 569.06 L56.57 568.57 L57.05 568.07 L57.54 567.57 L58.03 567.06 L58.53 566.55 L59.04 566.04 L59.56 565.52 L60.08 565.00 L60.61 564.48 L61.14 563.95 L61.68 563.42 L62.23 562.88 L62.79 562.35 L63.35 561.81 L63.91 561.26 L64.48 560.72 L65.06 560.17 L65.64 559.62 L66.23 559.06 L66.83 558.50 L67.43 557.94 L68.04 557.38 L68.65 556.81 L69.27 556.24 L69.90 555.67 L70.53 555.10 L71.16 554.52 L71.81 553.94 L72.45 553.36 L73.11 552.77 L73.77 552.19 L74.43 551.60 L75.10 551.01 L75.78 550.41 L76.46 549.82 L77.14 549.22 L77.83 548.62 L78.53 548.02 L79.23 547.41 L79.94 546.81 L80.65 546.20 L81.37 545.59 L82.09 544.98 L82.82 544.36 L83.55 543.75 L84.29 543.13 L85.04 542.51 L85.78 541.89 L86.54 541.26 L87.30 540.64 L88.06 540.01 L88.83 539.38 L89.60 538.75 L90.38 538.12 L91.17 537.48 L91.95 536.85 L92.75 536.21 L93.55 535.57 L94.35 534.93 L95.16 534.29 L95.97 533.65 L96.79 533.00 L97.61 532.36 L98.44 531.71 L99.27 531.06 L100.11 530.41 L100.95 529.76 L101.79 529.10 L102.64 528.45 L103.50 527.79 L104.36 527.14 L105.22 526.48 L106.09 525.82 L106.97 525.16 L107.84 524.50 L108.73 523.83 L109.61 523.17 L110.51 522.51 L111.40 521.84 L112.30 521.17 L113.21 520.50 L114.12 519.83 L115.03 519.16 L115.95 518.49 L116.88 517.82 L117.80 517.14 L118.74 516.47 L119.67 515.79 L120.61 515.12 L121.56 514.44 L122.51 513.76 L123.46 513.08 L124.42 512.40 L125.38 511.72 L126.35 511.04 L127.32 510.36 L128.29 509.67 L129.27 508.99 L130.26 508.30 L131.24 507.62 L132.24 506.93 L133.23 506.24 L134.23 505.55 L135.24 504.87 L136.25 504.18 L137.26 503.49 L138.28 502.79 L139.30 502.10 L140.32 501.41 L141.35 500.72 L142.39 500.02 L143.42 499.33 L144.47 498.63 L145.51 497.94 L146.56 497.24 L147.62 496.55 L148.67 495.85 L149.74 495.15 L150.80 494.45 L151.87 493.76 L152.95 493.06 L154.02 492.36 L155.11 491.66 L156.19 490.96 L157.28 490.26 L158.38 489.55 L159.47 488.85 L160.58 488.15 L161.68 487.45 L162.79 486.74 L163.90 486.04 L165.02 485.34 L166.14 484.63 L167.27 483.93 L168.40 483.22 L169.53 482.52 L170.67 481.81 L171.81 481.11 L172.95 480.40 L174.10 479.69 L175.25 478.98 L176.41 478.28 L177.57 477.57 L178.73 476.86 L179.90 476.15 L181.07 475.45 L182.24 474.74 L183.42 474.03 L184.60 473.32 L185.79 472.61 L186.98 471.90 L188.17 471.19 L189.37 470.48 L190.57 469.77 L191.77 469.06 L192.98 468.35 L194.19 467.64 L195.41 466.93 L196.63 466.22 L197.85 465.50 L199.08 464.79 L200.31 464.08 L201.54 463.37 L202.78 462.66 L204.02 461.95 L205.27 461.23 L206.51 460.52 L207.77 459.81 L209.02 459.10 L210.28 458.38 L211.54 457.67 L212.81 456.96 L214.08 456.24 L215.35 455.53 L216.63 454.82 L217.91 454.11 L219.19 453.39 L220.48 452.68 L221.77 451.97 L223.07 451.25 L224.37 450.54 L225.67 449.83 L226.97 449.11 L228.28 448.40 L229.59 447.69 L230.91 446.97 L232.23 446.26 L233.55 445.54 L234.88 444.83 L236.21 444.12 L237.54 443.40 L238.88 442.69 L240.22 441.98 L241.56 441.26 L242.91 440.55 L244.26 439.84 L245.61 439.12 L246.97 438.41 L248.33 437.70 L249.69 436.98 L251.06 436.27 L252.43 435.56 L253.80 434.84 L255.18 434.13 L256.56 433.42 L257.95 432.70 L259.33 431.99 L260.72 431.28 L262.12 430.56 L263.52 429.85 L264.92 429.14 L266.32 428.42 L267.73 427.71 L269.14 427.00 L270.55 426.28 L271.97 425.57 L273.39 424.86 L274.82 424.15 L276.24 423.43 L277.68 422.72 L279.11 422.01 L280.55 421.30 L281.99 420.58 L283.43 419.87 L284.88 419.16 L286.33 418.45 L287.78 417.74 L289.24 417.02 L290.70 416.31 L292.16 415.60 L293.63 414.89 L295.10 414.18 L296.57 413.47 L298.05 412.75 L299.53 412.04 L301.01 411.33 L302.50 410.62 L303.99 409.91 L305.48 409.20 L306.98 408.49 L308.48 407.78 L309.98 407.06 L311.48 406.35 L312.99 405.64 L314.50 404.93 L316.02 404.22 L317.54 403.51 L319.06 402.80 L320.58 402.09 L322.11 401.38 L323.64 400.67 L325.18 399.96 L326.71 399.25 L328.25 398.54 L329.80 397.83 L331.34 397.12 L332.89 396.41 L334.44 395.70 L336.00 394.99" fill="none" stroke="#000000" stroke-width="1.4" stroke-linejoin="round"/><path d="M44.00 584.00 L44.03 583.91 L44.10 583.77 L44.18 583.59 L44.29 583.39 L44.42 583.17 L44.56 582.93 L44.71 582.67 L44.88 582.39 L45.07 582.10 L45.26 581.80 L45.47 581.49 L45.69 581.16 L45.92 580.82 L46.17 580.47 L46.42 580.12 L46.68 579.75 L46.96 579.37 L47.24 578.98 L47.53 578.59 L47.83 578.18 L48.15 577.77 L48.47 577.35 L48.79 576.92 L49.13 576.49 L49.48 576.05 L49.83 575.60 L50.20 575.14 L50.57 574.68 L50.95 574.21 L51.33 573.73 L51.73 573.25 L52.13 572.76 L52.54 572.26 L52.96 571.76 L53.39 571.26 L53.82 570.74 L54.26 570.23 L54.71 569.70 L55.16 569.18 L55.62 568.64 L56.09 568.10 L56.57 567.56 L57.05 567.01 L57.54 566.46 L58.03 565.90 L58.53 565.34 L59.04 564.77 L59.56 564.20 L60.08 563.63 L60.61 563.05 L61.14 562.46 L61.68 561.88 L62.23 561.28 L62.79 560.69 L63.35 560.09 L63.91 559.48 L64.48 558.88 L65.06 558.26 L65.64 557.65 L66.23 557.03 L66.83 556.41 L67.43 555.78 L68.04 555.15 L68.65 554.52 L69.27 553.88 L69.90 553.24 L70.53 552.60 L71.16 551.95 L71.81 551.30 L72.45 550.65 L73.11 550.00 L73.77 549.34 L74.43 548.68 L75.10 548.01 L75.78 547.34 L76.46 546.67 L77.14 546.00 L77.83 545.32 L78.53 544.64 L79.23 543.96 L79.94 543.28 L80.65 542.59 L81.37 541.90 L82.09 541.21 L82.82 540.52 L83.55 539.82 L84.29 539.12 L85.04 538.42 L85.78 537.71 L86.54 537.01 L87.30 536.30 L88.06 535.59 L88.83 534.87 L89.60 534.16 L90.38 533.44 L91.17 532.72 L91.95 532.00 L92.75 531.27 L93.55 530.55 L94.35 529.82 L95.16 529.09 L95.97 528.36 L96.79 527.62 L97.61 526.89 L98.44 526.15 L99.27 525.41 L100.11 524.67 L100.95 523.92 L101.79 523.18 L102.64 522.43 L103.50 521.68 L104.36 520.93 L105.22 520.18 L106.09 519.43 L106.97 518.67 L107.84 517.91 L108.73 517.16 L109.61 516.40 L110.51 515.63 L111.40 514.87 L112.30 514.11 L113.21 513.34 L114.12 512.57 L115.03 511.80 L115.95 511.03 L116.88 510.26 L117.80 509.49 L118.74 508.71 L119.67 507.94 L120.61 507.16 L121.56 506.38 L122.51 505.60 L123.46 504.82 L124.42 504.04 L125.38 503.26 L126.35 502.47 L127.32 501.68 L128.29 500.90 L129.27 500.11 L130.26 499.32 L131.24 498.53 L132.24 497.74 L133.23 496.95 L134.23 496.15 L135.24 495.36 L136.25 494.56 L137.26 493.77 L138.28 492.97 L139.30 492.17 L140.32 491.37 L141.35 490.57 L142.39 489.77 L143.42 488.97 L144.47 488.17 L145.51 487.36 L146.56 486.56 L147.62 485.75 L148.67 484.95 L149.74 484.14 L150.80 483.33 L151.87 482.52 L152.95 481.71 L154.02 480.90 L155.11 480.09 L156.19 479.28 L157.28 478.47 L158.38 477.65 L159.47 476.84 L160.58 476.03 L161.68 475.21 L162.79 474.40 L163.90 473.58 L165.02 472.76 L166.14 471.94 L167.27 471.13 L168.40 470.31 L169.53 469.49 L170.67 468.67 L171.81 467.85 L172.95 467.03 L174.10 466.20 L175.25 465.38 L176.41 464.56 L177.57 463.74 L178.73 462.91 L179.90 462.09 L181.07 461.26 L182.24 460.44 L183.42 459.61 L184.60 458.79 L185.79 457.96 L186.98 457.13 L188.17 456.31 L189.37 455.48 L190.57 454.65 L191.77 453.82 L192.98 452.99 L194.19 452.16 L195.41 451.33 L196.63 450.50 L197.85 449.67 L199.08 448.84 L200.31 448.01 L201.54 447.18 L202.78 446.35 L204.02 445.52 L205.27 444.68 L206.51 443.85 L207.77 443.02 L209.02 442.18 L210.28 441.35 L211.54 440.52 L212.81 439.68 L214.08 438.85 L215.35 438.01 L216.63 437.18 L217.91 436.34 L219.19 435.51 L220.48 434.67 L221.77 433.84 L223.07 433.00 L224.37 432.16 L225.67 431.33 L226.97 430.49 L228.28 429.65 L229.59 428.81 L230.91 427.98 L232.23 427.14 L233.55 426.30 L234.88 425.46 L236.21 424.62 L237.54 423.79 L238.88 422.95 L240.22 422.11 L241.56 421.27 L242.91 420.43 L244.26 419.59 L245.61 418.75 L246.97 417.91 L248.33 417.07 L249.69 416.23 L251.06 415.39 L252.43 414.55 L253.80 413.71 L255.18 412.87 L256.56 412.03 L257.95 411.19 L259.33 410.35 L260.72 409.51 L262.12 408.67 L263.52 407.83 L264.92 406.98 L266.32 406.14 L267.73 405.30 L269.14 404.46 L270.55 403.62 L271.97 402.77 L273.39 401.93 L274.82 401.09 L276.24 400.25 L277.68 399.40 L279.11 398.56 L280.55 397.72 L281.99 396.88 L283.43 396.03 L284.88 395.19 L286.33 394.35 L287.78 393.50 L289.24 392.66 L290.70 391.82 L292.16 390.97 L293.63 390.13 L295.10 389.28 L296.57 388.44 L298.05 387.60 L299.53 386.75 L301.01 385.91 L302.50 385.06 L303.99 384.22 L305.48 383.37 L306.98 382.53 L308.48 381.68 L309.98 380.84 L311.48 379.99 L312.99 379.15 L314.50 378.30 L316.02 377.45 L317.54 376.61 L319.06 375.76 L320.58 374.92 L322.11 374.07 L323.64 373.22 L325.18 372.38 L326.71 371.53 L328.25 370.68 L329.80 369.83 L331.34 368.99 L332.89 368.14 L334.44 367.29 L336.00 366.44" fill="none" stroke="#f02222" stroke-width="1.4" stroke-linejoin="round"/><path d="M44.00 584.00 L44.03 583.92 L44.10 583.78 L44.18 583.61 L44.29 583.41 L44.42 583.19 L44.56 582.94 L44.71 582.68 L44.88 582.41 L45.07 582.11 L45.26 581.80 L45.47 581.48 L45.69 581.15 L45.92 580.80 L46.17 580.44 L46.42 580.07 L46.68 579.69 L46.96 579.30 L47.24 578.90 L47.53 578.49 L47.83 578.07 L48.15 577.64 L48.47 577.20 L48.79 576.76 L49.13 576.30 L49.48 575.84 L49.83 575.36 L50.20 574.88 L50.57 574.40 L50.95 573.90 L51.33 573.40 L51.73 572.89 L52.13 572.37 L52.54 571.85 L52.96 571.32 L53.39 570.78 L53.82 570.24 L54.26 569.69 L54.71 569.13 L55.16 568.57 L55.62 568.00 L56.09 567.43 L56.57 566.85 L57.05 566.26 L57.54 565.67 L58.03 565.07 L58.53 564.47 L59.04 563.87 L59.56 563.25 L60.08 562.63 L60.61 562.01 L61.14 561.38 L61.68 560.75 L62.23 560.11 L62.79 559.47 L63.35 558.82 L63.91 558.17 L64.48 557.51 L65.06 556.85 L65.64 556.18 L66.23 555.51 L66.83 554.84 L67.43 554.16 L68.04 553.48 L68.65 552.79 L69.27 552.10 L69.90 551.40 L70.53 550.70 L71.16 550.00 L71.81 549.29 L72.45 548.58 L73.11 547.86 L73.77 547.14 L74.43 546.42 L75.10 545.69 L75.78 544.96 L76.46 544.23 L77.14 543.49 L77.83 542.75 L78.53 542.00 L79.23 541.25 L79.94 540.50 L80.65 539.75 L81.37 538.99 L82.09 538.23 L82.82 537.46 L83.55 536.70 L84.29 535.92 L85.04 535.15 L85.78 534.37 L86.54 533.59 L87.30 532.81 L88.06 532.02 L88.83 531.23 L89.60 530.44 L90.38 529.64 L91.17 528.85 L91.95 528.05 L92.75 527.24 L93.55 526.44 L94.35 525.63 L95.16 524.82 L95.97 524.00 L96.79 523.18 L97.61 522.36 L98.44 521.54 L99.27 520.72 L100.11 519.89 L100.95 519.06 L101.79 518.23 L102.64 517.40 L103.50 516.56 L104.36 515.72 L105.22 514.88 L106.09 514.03 L106.97 513.19 L107.84 512.34 L108.73 511.49 L109.61 510.64 L110.51 509.78 L111.40 508.93 L112.30 508.07 L113.21 507.21 L114.12 506.35 L115.03 505.48 L115.95 504.61 L116.88 503.74 L117.80 502.87 L118.74 502.00 L119.67 501.13 L120.61 500.25 L121.56 499.37 L122.51 498.49 L123.46 497.61 L124.42 496.73 L125.38 495.84 L126.35 494.96 L127.32 494.07 L128.29 493.18 L129.27 492.29 L130.26 491.39 L131.24 490.50 L132.24 489.60 L133.23 488.70 L134.23 487.80 L135.24 486.90 L136.25 486.00 L137.26 485.10 L138.28 484.19 L139.30 483.28 L140.32 482.38 L141.35 481.47 L142.39 480.56 L143.42 479.64 L144.47 478.73 L145.51 477.82 L146.56 476.90 L147.62 475.98 L148.67 475.06 L149.74 474.14 L150.80 473.22 L151.87 472.30 L152.95 471.38 L154.02 470.45 L155.11 469.53 L156.19 468.60 L157.28 467.68 L158.38 466.75 L159.47 465.82 L160.58 464.89 L161.68 463.96 L162.79 463.02 L163.90 462.09 L165.02 461.16 L166.14 460.22 L167.27 459.29 L168.40 458.35 L169.53 457.41 L170.67 456.47 L171.81 455.53 L172.95 454.59 L174.10 453.65 L175.25 452.71 L176.41 451.77 L177.57 450.82 L178.73 449.88 L179.90 448.94 L181.07 447.99 L182.24 447.05 L183.42 446.10 L184.60 445.15 L185.79 444.20 L186.98 443.26 L188.17 442.31 L189.37 441.36 L190.57 440.41 L191.77 439.46 L192.98 438.51 L194.19 437.56 L195.41 436.60 L196.63 435.65 L197.85 434.70 L199.08 433.75 L200.31 432.79 L201.54 431.84 L202.78 430.88 L204.02 429.93 L205.27 428.97 L206.51 428.02 L207.77 427.06 L209.02 426.11 L210.28 425.15 L211.54 424.20 L212.81 423.24 L214.08 422.28 L215.35 421.33 L216.63 420.37 L217.91 419.41 L219.19 418.45 L220.48 417.50 L221.77 416.54 L223.07 415.58 L224.37 414.62 L225.67 413.66 L226.97 412.70 L228.28 411.75 L229.59 410.79 L230.91 409.83 L232.23 408.87 L233.55 407.91 L234.88 406.95 L236.21 406.00 L237.54 405.04 L238.88 404.08 L240.22 403.12 L241.56 402.16 L242.91 401.20 L244.26 400.25 L245.61 399.29 L246.97 398.33 L248.33 397.37 L249.69 396.41 L251.06 395.46 L252.43 394.50 L253.80 393.54 L255.18 392.59 L256.56 391.63 L257.95 390.67 L259.33 389.72 L260.72 388.76 L262.12 387.81 L263.52 386.85 L264.92 385.90 L266.32 384.94 L267.73 383.99 L269.14 383.03 L270.55 382.08 L271.97 381.13 L273.39 380.17 L274.82 379.22 L276.24 378.27 L277.68 377.32 L279.11 376.37 L280.55 375.42 L281.99 374.46 L283.43 373.51 L284.88 372.57 L286.33 371.62 L287.78 370.67 L289.24 369.72 L290.70 368.77 L292.16 367.83 L293.63 366.88 L295.10 365.93 L296.57 364.99 L298.05 364.04 L299.53 363.10 L301.01 362.16 L302.50 361.21 L303.99 360.27 L305.48 359.33 L306.98 358.39 L308.48 357.45 L309.98 356.51 L311.48 355.57 L312.99 354.63 L314.50 353.69 L316.02 352.75 L317.54 351.82 L319.06 350.88 L320.58 349.95 L322.11 349.01 L323.64 348.08 L325.18 347.15 L326.71 346.22 L328.25 345.29 L329.80 344.35 L331.34 343.43 L332.89 342.50 L334.44 341.57 L336.00 340.64" fill="none" stroke="#1818f0" stroke-width="1.4" stroke-linejoin="round"/><rect x="40.30" y="556.16" width="7.40" height="7.40" fill="#fff" stroke="#333333" stroke-width="1.1"/><rect x="54.61" y="553.60" width="7.40" height="7.40" fill="#fff" stroke="#333333" stroke-width="1.1"/><rect x="91.98" y="529.81" width="7.40" height="7.40" fill="#fff" stroke="#333333" stroke-width="1.1"/><rect x="156.22" y="485.51" width="7.40" height="7.40" fill="#fff" stroke="#333333" stroke-width="1.1"/><rect x="238.86" y="443.42" width="7.40" height="7.40" fill="#fff" stroke="#333333" stroke-width="1.1"/><rect x="321.50" y="398.08" width="7.40" height="7.40" fill="#fff" stroke="#333333" stroke-width="1.1"/><circle cx="44.00" cy="562.80" r="4.4" fill="#fff" stroke="#ff3030" stroke-width="1.0"/><circle cx="65.99" cy="548.67" r="4.4" fill="#fff" stroke="#ff3030" stroke-width="1.0"/><circle cx="120.50" cy="523.36" r="4.4" fill="#fff" stroke="#ff3030" stroke-width="1.0"/><circle cx="214.53" cy="481.26" r="4.4" fill="#fff" stroke="#ff3030" stroke-width="1.0"/><circle cx="331.33" cy="415.91" r="4.4" fill="#fff" stroke="#ff3030" stroke-width="1.0"/><path d="M44.00 566.98L49.00 575.98L39.00 575.98Z" fill="#fff" stroke="#3a3aff" stroke-width="1.0"/><path d="M66.48 557.85L71.48 566.85L61.48 566.85Z" fill="#fff" stroke="#3a3aff" stroke-width="1.0"/><path d="M127.80 505.75L132.80 514.75L122.80 514.75Z" fill="#fff" stroke="#3a3aff" stroke-width="1.0"/><path d="M246.65 420.38L251.65 429.38L241.65 429.38Z" fill="#fff" stroke="#3a3aff" stroke-width="1.0"/></g><rect x="44.0" y="348.5" width="292.0" height="235.5" fill="none" stroke="#333" stroke-width="1.0"/><path d="M73.50 584.0V582.0 M102.50 584.0V579.7 M131.50 584.0V582.0 M160.50 584.0V579.7 M190.50 584.0V582.0 M219.50 584.0V579.7 M248.50 584.0V582.0 M277.50 584.0V579.7 M306.50 584.0V582.0 M44.0 554.50H46.0 M44.0 525.50H48.3 M44.0 495.50H46.0 M44.0 466.50H48.3 M44.0 436.50H46.0 M44.0 407.50H48.3 M44.0 377.50H46.0" stroke="#222" stroke-width="1.0" fill="none"/><text x="44.00" y="599.20" class="tl" text-anchor="middle">0. 0</text><text x="102.40" y="599.20" class="tl" text-anchor="middle">0. 2</text><text x="160.80" y="599.20" class="tl" text-anchor="middle">0. 4</text><text x="219.20" y="599.20" class="tl" text-anchor="middle">0. 6</text><text x="277.60" y="599.20" class="tl" text-anchor="middle">0. 8</text><text x="336.00" y="599.20" class="tl" text-anchor="middle">1. 0</text><text x="38.00" y="588.30" class="tl" text-anchor="end">0</text><text x="38.00" y="529.42" class="tl" text-anchor="end">2</text><text x="38.00" y="470.55" class="tl" text-anchor="end">4</text><text x="38.00" y="411.68" class="tl" text-anchor="end">6</text><text x="38.00" y="352.80" class="tl" text-anchor="end">8</text><clipPath id="clipd"><rect x="395.5" y="348.6" width="282.0" height="227.79999999999995"/></clipPath><g clip-path="url(#clipd)"><rect x="391.80" y="548.67" width="7.40" height="7.40" fill="#fff" stroke="#333333" stroke-width="1.1"/><rect x="403.50" y="525.43" width="7.40" height="7.40" fill="#fff" stroke="#333333" stroke-width="1.1"/><rect x="431.28" y="488.64" width="7.40" height="7.40" fill="#fff" stroke="#333333" stroke-width="1.1"/><rect x="484.30" y="451.51" width="7.40" height="7.40" fill="#fff" stroke="#333333" stroke-width="1.1"/><rect x="559.03" y="412.10" width="7.40" height="7.40" fill="#fff" stroke="#333333" stroke-width="1.1"/><rect x="638.55" y="377.59" width="7.40" height="7.40" fill="#fff" stroke="#333333" stroke-width="1.1"/><circle cx="395.50" cy="542.23" r="4.4" fill="#fff" stroke="#ff3030" stroke-width="1.0"/><circle cx="403.68" cy="519.68" r="4.4" fill="#fff" stroke="#ff3030" stroke-width="1.0"/><circle cx="425.11" cy="489.04" r="4.4" fill="#fff" stroke="#ff3030" stroke-width="1.0"/><circle cx="474.18" cy="454.19" r="4.4" fill="#fff" stroke="#ff3030" stroke-width="1.0"/><circle cx="555.68" cy="413.98" r="4.4" fill="#fff" stroke="#ff3030" stroke-width="1.0"/><circle cx="657.20" cy="372.52" r="4.4" fill="#fff" stroke="#ff3030" stroke-width="1.0"/><path d="M395.50 535.91L400.50 544.91L390.50 544.91Z" fill="#fff" stroke="#3a3aff" stroke-width="1.0"/><path d="M416.00 502.77L421.00 511.77L411.00 511.77Z" fill="#fff" stroke="#3a3aff" stroke-width="1.0"/><path d="M469.10 441.60L474.10 450.60L464.10 450.60Z" fill="#fff" stroke="#3a3aff" stroke-width="1.0"/><path d="M566.67 383.52L571.67 392.52L561.67 392.52Z" fill="#fff" stroke="#3a3aff" stroke-width="1.0"/><path d="M395.50 576.40 L395.53 576.12 L395.59 575.74 L395.68 575.31 L395.78 574.84 L395.90 574.35 L396.04 573.84 L396.19 573.30 L396.35 572.75 L396.53 572.18 L396.72 571.59 L396.92 571.00 L397.14 570.38 L397.36 569.76 L397.59 569.13 L397.84 568.48 L398.09 567.83 L398.35 567.17 L398.63 566.50 L398.91 565.81 L399.20 565.12 L399.50 564.43 L399.81 563.72 L400.13 563.01 L400.46 562.29 L400.79 561.56 L401.13 560.83 L401.48 560.09 L401.84 559.35 L402.21 558.59 L402.58 557.83 L402.97 557.07 L403.35 556.30 L403.75 555.53 L404.15 554.74 L404.56 553.96 L404.98 553.17 L405.41 552.37 L405.84 551.57 L406.28 550.76 L406.72 549.95 L407.18 549.14 L407.64 548.32 L408.10 547.49 L408.57 546.66 L409.05 545.83 L409.54 545.00 L410.03 544.16 L410.53 543.32 L411.03 542.47 L411.54 541.62 L412.06 540.77 L412.58 539.92 L413.11 539.06 L413.64 538.20 L414.18 537.34 L414.73 536.48 L415.28 535.61 L415.84 534.74 L416.40 533.87 L416.97 533.00 L417.55 532.12 L418.13 531.24 L418.72 530.36 L419.31 529.48 L419.91 528.60 L420.51 527.71 L421.12 526.82 L421.73 525.94 L422.35 525.05 L422.98 524.15 L423.61 523.26 L424.25 522.37 L424.89 521.47 L425.53 520.58 L426.19 519.68 L426.84 518.78 L427.51 517.88 L428.17 516.98 L428.85 516.08 L429.53 515.17 L430.21 514.27 L430.90 513.36 L431.59 512.46 L432.29 511.55 L432.99 510.65 L433.70 509.74 L434.41 508.83 L435.13 507.92 L435.85 507.01 L436.58 506.10 L437.31 505.19 L438.05 504.28 L438.79 503.37 L439.54 502.46 L440.29 501.55 L441.05 500.64 L441.81 499.73 L442.58 498.82 L443.35 497.91 L444.12 497.00 L444.90 496.09 L445.69 495.18 L446.48 494.27 L447.27 493.36 L448.07 492.45 L448.88 491.54 L449.68 490.63 L450.50 489.72 L451.31 488.81 L452.13 487.90 L452.96 487.00 L453.79 486.09 L454.63 485.18 L455.47 484.28 L456.31 483.37 L457.16 482.47 L458.01 481.56 L458.87 480.66 L459.73 479.75 L460.59 478.85 L461.46 477.95 L462.34 477.05 L463.22 476.15 L464.10 475.25 L464.99 474.35 L465.88 473.46 L466.78 472.56 L467.68 471.67 L468.58 470.77 L469.49 469.88 L470.40 468.99 L471.32 468.10 L472.24 467.21 L473.16 466.32 L474.09 465.43 L475.03 464.55 L475.97 463.66 L476.91 462.78 L477.85 461.90 L478.80 461.02 L479.76 460.14 L480.72 459.26 L481.68 458.38 L482.64 457.51 L483.61 456.64 L484.59 455.76 L485.57 454.89 L486.55 454.02 L487.54 453.16 L488.53 452.29 L489.52 451.43 L490.52 450.56 L491.52 449.70 L492.53 448.84 L493.54 447.99 L494.55 447.13 L495.57 446.28 L496.59 445.43 L497.62 444.57 L498.64 443.73 L499.68 442.88 L500.72 442.03 L501.76 441.19 L502.80 440.35 L503.85 439.51 L504.90 438.67 L505.96 437.84 L507.02 437.01 L508.08 436.17 L509.15 435.35 L510.22 434.52 L511.30 433.69 L512.38 432.87 L513.46 432.05 L514.55 431.23 L515.64 430.41 L516.73 429.60 L517.83 428.79 L518.93 427.98 L520.03 427.17 L521.14 426.36 L522.26 425.56 L523.37 424.76 L524.49 423.96 L525.62 423.16 L526.74 422.37 L527.87 421.58 L529.01 420.79 L530.15 420.00 L531.29 419.21 L532.43 418.43 L533.58 417.65 L534.73 416.87 L535.89 416.10 L537.05 415.32 L538.21 414.55 L539.38 413.79 L540.55 413.02 L541.72 412.26 L542.90 411.50 L544.08 410.74 L545.27 409.98 L546.46 409.23 L547.65 408.48 L548.84 407.73 L550.04 406.99 L551.24 406.24 L552.45 405.50 L553.66 404.77 L554.87 404.03 L556.09 403.30 L557.31 402.57 L558.53 401.84 L559.75 401.12 L560.98 400.40 L562.22 399.68 L563.45 398.96 L564.69 398.25 L565.94 397.54 L567.18 396.83 L568.43 396.13 L569.69 395.43 L570.95 394.73 L572.21 394.03 L573.47 393.34 L574.74 392.65 L576.01 391.96 L577.28 391.27 L578.56 390.59 L579.84 389.91 L581.12 389.23 L582.41 388.56 L583.70 387.89 L585.00 387.22 L586.29 386.56 L587.59 385.89 L588.90 385.23 L590.21 384.58 L591.52 383.92 L592.83 383.27 L594.15 382.63 L595.47 381.98 L596.79 381.34 L598.12 380.70 L599.45 380.07 L600.78 379.43 L602.12 378.80 L603.46 378.18 L604.80 377.55 L606.15 376.93 L607.50 376.31 L608.85 375.70 L610.21 375.09 L611.57 374.48 L612.93 373.87 L614.30 373.27 L615.66 372.67 L617.04 372.07 L618.41 371.48 L619.79 370.89 L621.17 370.30 L622.56 369.72 L623.95 369.14 L625.34 368.56 L626.73 367.99 L628.13 367.41 L629.53 366.84 L630.93 366.28 L632.34 365.72 L633.75 365.16 L635.17 364.60 L636.58 364.05 L638.00 363.50 L639.42 362.95 L640.85 362.41 L642.28 361.87 L643.71 361.33 L645.15 360.79 L646.59 360.26 L648.03 359.74 L649.47 359.21 L650.92 358.69 L652.37 358.17 L653.82 357.66 L655.28 357.14 L656.74 356.63 L658.20 356.13 L659.67 355.63 L661.14 355.13 L662.61 354.63 L664.09 354.14 L665.56 353.65 L667.05 353.16 L668.53 352.68 L670.02 352.20 L671.51 351.72 L673.00 351.25 L674.50 350.77 L676.00 350.31 L677.50 349.84" fill="none" stroke="#1a7a1a" stroke-width="1.4" stroke-linejoin="round"/><path d="M395.50 576.40 L395.53 576.14 L395.59 575.78 L395.68 575.37 L395.78 574.92 L395.90 574.45 L396.04 573.95 L396.19 573.42 L396.35 572.88 L396.53 572.33 L396.72 571.75 L396.92 571.17 L397.14 570.57 L397.36 569.95 L397.59 569.33 L397.84 568.69 L398.09 568.05 L398.35 567.39 L398.63 566.72 L398.91 566.05 L399.20 565.36 L399.50 564.67 L399.81 563.97 L400.13 563.26 L400.46 562.54 L400.79 561.81 L401.13 561.08 L401.48 560.34 L401.84 559.60 L402.21 558.85 L402.58 558.09 L402.97 557.32 L403.35 556.55 L403.75 555.77 L404.15 554.99 L404.56 554.20 L404.98 553.40 L405.41 552.60 L405.84 551.80 L406.28 550.99 L406.72 550.17 L407.18 549.35 L407.64 548.52 L408.10 547.69 L408.57 546.86 L409.05 546.02 L409.54 545.18 L410.03 544.33 L410.53 543.48 L411.03 542.63 L411.54 541.77 L412.06 540.92 L412.58 540.06 L413.11 539.19 L413.64 538.33 L414.18 537.46 L414.73 536.59 L415.28 535.72 L415.84 534.84 L416.40 533.97 L416.97 533.09 L417.55 532.21 L418.13 531.32 L418.72 530.44 L419.31 529.55 L419.91 528.67 L420.51 527.78 L421.12 526.89 L421.73 526.00 L422.35 525.11 L422.98 524.21 L423.61 523.32 L424.25 522.42 L424.89 521.53 L425.53 520.63 L426.19 519.73 L426.84 518.84 L427.51 517.94 L428.17 517.04 L428.85 516.14 L429.53 515.24 L430.21 514.34 L430.90 513.44 L431.59 512.54 L432.29 511.63 L432.99 510.73 L433.70 509.83 L434.41 508.93 L435.13 508.03 L435.85 507.13 L436.58 506.23 L437.31 505.33 L438.05 504.43 L438.79 503.53 L439.54 502.63 L440.29 501.73 L441.05 500.83 L441.81 499.94 L442.58 499.04 L443.35 498.14 L444.12 497.25 L444.90 496.35 L445.69 495.46 L446.48 494.56 L447.27 493.67 L448.07 492.78 L448.88 491.89 L449.68 491.00 L450.50 490.11 L451.31 489.23 L452.13 488.34 L452.96 487.46 L453.79 486.57 L454.63 485.69 L455.47 484.81 L456.31 483.93 L457.16 483.05 L458.01 482.17 L458.87 481.30 L459.73 480.42 L460.59 479.55 L461.46 478.68 L462.34 477.81 L463.22 476.94 L464.10 476.08 L464.99 475.21 L465.88 474.35 L466.78 473.49 L467.68 472.63 L468.58 471.78 L469.49 470.92 L470.40 470.07 L471.32 469.22 L472.24 468.37 L473.16 467.52 L474.09 466.67 L475.03 465.83 L475.97 464.99 L476.91 464.15 L477.85 463.31 L478.80 462.48 L479.76 461.64 L480.72 460.81 L481.68 459.98 L482.64 459.16 L483.61 458.33 L484.59 457.51 L485.57 456.69 L486.55 455.87 L487.54 455.06 L488.53 454.25 L489.52 453.44 L490.52 452.63 L491.52 451.82 L492.53 451.02 L493.54 450.22 L494.55 449.42 L495.57 448.62 L496.59 447.83 L497.62 447.04 L498.64 446.25 L499.68 445.47 L500.72 444.68 L501.76 443.90 L502.80 443.12 L503.85 442.35 L504.90 441.58 L505.96 440.81 L507.02 440.04 L508.08 439.28 L509.15 438.51 L510.22 437.75 L511.30 437.00 L512.38 436.24 L513.46 435.49 L514.55 434.74 L515.64 434.00 L516.73 433.26 L517.83 432.52 L518.93 431.78 L520.03 431.05 L521.14 430.31 L522.26 429.58 L523.37 428.86 L524.49 428.14 L525.62 427.42 L526.74 426.70 L527.87 425.98 L529.01 425.27 L530.15 424.56 L531.29 423.86 L532.43 423.16 L533.58 422.46 L534.73 421.76 L535.89 421.07 L537.05 420.37 L538.21 419.69 L539.38 419.00 L540.55 418.32 L541.72 417.64 L542.90 416.96 L544.08 416.29 L545.27 415.62 L546.46 414.95 L547.65 414.29 L548.84 413.63 L550.04 412.97 L551.24 412.31 L552.45 411.66 L553.66 411.01 L554.87 410.37 L556.09 409.72 L557.31 409.08 L558.53 408.45 L559.75 407.81 L560.98 407.18 L562.22 406.55 L563.45 405.93 L564.69 405.30 L565.94 404.69 L567.18 404.07 L568.43 403.46 L569.69 402.85 L570.95 402.24 L572.21 401.64 L573.47 401.04 L574.74 400.44 L576.01 399.84 L577.28 399.25 L578.56 398.66 L579.84 398.08 L581.12 397.49 L582.41 396.91 L583.70 396.34 L585.00 395.76 L586.29 395.19 L587.59 394.63 L588.90 394.06 L590.21 393.50 L591.52 392.94 L592.83 392.39 L594.15 391.83 L595.47 391.28 L596.79 390.74 L598.12 390.19 L599.45 389.65 L600.78 389.12 L602.12 388.58 L603.46 388.05 L604.80 387.52 L606.15 386.99 L607.50 386.47 L608.85 385.95 L610.21 385.44 L611.57 384.92 L612.93 384.41 L614.30 383.90 L615.66 383.40 L617.04 382.90 L618.41 382.40 L619.79 381.90 L621.17 381.41 L622.56 380.92 L623.95 380.43 L625.34 379.95 L626.73 379.46 L628.13 378.98 L629.53 378.51 L630.93 378.04 L632.34 377.57 L633.75 377.10 L635.17 376.63 L636.58 376.17 L638.00 375.71 L639.42 375.26 L640.85 374.80 L642.28 374.35 L643.71 373.91 L645.15 373.46 L646.59 373.02 L648.03 372.58 L649.47 372.14 L650.92 371.71 L652.37 371.28 L653.82 370.85 L655.28 370.43 L656.74 370.00 L658.20 369.58 L659.67 369.17 L661.14 368.75 L662.61 368.34 L664.09 367.93 L665.56 367.52 L667.05 367.12 L668.53 366.72 L670.02 366.32 L671.51 365.92 L673.00 365.53 L674.50 365.14 L676.00 364.75 L677.50 364.37" fill="none" stroke="#ff1aff" stroke-width="1.4" stroke-linejoin="round"/><path d="M395.50 576.40 L395.53 576.04 L395.59 575.59 L395.68 575.10 L395.78 574.59 L395.90 574.04 L396.04 573.48 L396.19 572.91 L396.35 572.32 L396.53 571.72 L396.72 571.10 L396.92 570.48 L397.14 569.84 L397.36 569.20 L397.59 568.54 L397.84 567.88 L398.09 567.22 L398.35 566.54 L398.63 565.86 L398.91 565.17 L399.20 564.48 L399.50 563.78 L399.81 563.07 L400.13 562.36 L400.46 561.64 L400.79 560.92 L401.13 560.19 L401.48 559.46 L401.84 558.73 L402.21 557.99 L402.58 557.24 L402.97 556.49 L403.35 555.74 L403.75 554.98 L404.15 554.22 L404.56 553.46 L404.98 552.69 L405.41 551.91 L405.84 551.14 L406.28 550.36 L406.72 549.58 L407.18 548.79 L407.64 548.00 L408.10 547.21 L408.57 546.41 L409.05 545.61 L409.54 544.81 L410.03 544.01 L410.53 543.21 L411.03 542.40 L411.54 541.59 L412.06 540.77 L412.58 539.96 L413.11 539.14 L413.64 538.32 L414.18 537.50 L414.73 536.68 L415.28 535.85 L415.84 535.03 L416.40 534.20 L416.97 533.37 L417.55 532.54 L418.13 531.70 L418.72 530.87 L419.31 530.03 L419.91 529.19 L420.51 528.35 L421.12 527.51 L421.73 526.67 L422.35 525.82 L422.98 524.98 L423.61 524.13 L424.25 523.29 L424.89 522.44 L425.53 521.59 L426.19 520.73 L426.84 519.88 L427.51 519.03 L428.17 518.17 L428.85 517.32 L429.53 516.46 L430.21 515.60 L430.90 514.75 L431.59 513.89 L432.29 513.03 L432.99 512.17 L433.70 511.30 L434.41 510.44 L435.13 509.58 L435.85 508.71 L436.58 507.85 L437.31 506.98 L438.05 506.12 L438.79 505.25 L439.54 504.39 L440.29 503.52 L441.05 502.65 L441.81 501.78 L442.58 500.91 L443.35 500.04 L444.12 499.17 L444.90 498.30 L445.69 497.43 L446.48 496.56 L447.27 495.69 L448.07 494.82 L448.88 493.95 L449.68 493.08 L450.50 492.21 L451.31 491.33 L452.13 490.46 L452.96 489.59 L453.79 488.72 L454.63 487.84 L455.47 486.97 L456.31 486.10 L457.16 485.23 L458.01 484.35 L458.87 483.48 L459.73 482.61 L460.59 481.73 L461.46 480.86 L462.34 479.99 L463.22 479.11 L464.10 478.24 L464.99 477.37 L465.88 476.50 L466.78 475.62 L467.68 474.75 L468.58 473.88 L469.49 473.01 L470.40 472.14 L471.32 471.27 L472.24 470.40 L473.16 469.52 L474.09 468.65 L475.03 467.78 L475.97 466.91 L476.91 466.05 L477.85 465.18 L478.80 464.31 L479.76 463.44 L480.72 462.57 L481.68 461.70 L482.64 460.84 L483.61 459.97 L484.59 459.10 L485.57 458.24 L486.55 457.37 L487.54 456.51 L488.53 455.64 L489.52 454.78 L490.52 453.92 L491.52 453.06 L492.53 452.19 L493.54 451.33 L494.55 450.47 L495.57 449.61 L496.59 448.75 L497.62 447.89 L498.64 447.04 L499.68 446.18 L500.72 445.32 L501.76 444.47 L502.80 443.61 L503.85 442.76 L504.90 441.90 L505.96 441.05 L507.02 440.20 L508.08 439.34 L509.15 438.49 L510.22 437.64 L511.30 436.79 L512.38 435.95 L513.46 435.10 L514.55 434.25 L515.64 433.41 L516.73 432.56 L517.83 431.72 L518.93 430.87 L520.03 430.03 L521.14 429.19 L522.26 428.35 L523.37 427.51 L524.49 426.67 L525.62 425.83 L526.74 425.00 L527.87 424.16 L529.01 423.33 L530.15 422.49 L531.29 421.66 L532.43 420.83 L533.58 420.00 L534.73 419.17 L535.89 418.34 L537.05 417.51 L538.21 416.69 L539.38 415.86 L540.55 415.04 L541.72 414.22 L542.90 413.39 L544.08 412.57 L545.27 411.75 L546.46 410.93 L547.65 410.12 L548.84 409.30 L550.04 408.49 L551.24 407.67 L552.45 406.86 L553.66 406.05 L554.87 405.24 L556.09 404.43 L557.31 403.62 L558.53 402.81 L559.75 402.01 L560.98 401.20 L562.22 400.40 L563.45 399.60 L564.69 398.80 L565.94 398.00 L567.18 397.20 L568.43 396.41 L569.69 395.61 L570.95 394.82 L572.21 394.02 L573.47 393.23 L574.74 392.44 L576.01 391.65 L577.28 390.87 L578.56 390.08 L579.84 389.30 L581.12 388.51 L582.41 387.73 L583.70 386.95 L585.00 386.17 L586.29 385.40 L587.59 384.62 L588.90 383.85 L590.21 383.07 L591.52 382.30 L592.83 381.53 L594.15 380.76 L595.47 379.99 L596.79 379.23 L598.12 378.46 L599.45 377.70 L600.78 376.94 L602.12 376.18 L603.46 375.42 L604.80 374.66 L606.15 373.91 L607.50 373.15 L608.85 372.40 L610.21 371.65 L611.57 370.90 L612.93 370.15 L614.30 369.41 L615.66 368.66 L617.04 367.92 L618.41 367.18 L619.79 366.44 L621.17 365.70 L622.56 364.96 L623.95 364.23 L625.34 363.49 L626.73 362.76 L628.13 362.03 L629.53 361.30 L630.93 360.57 L632.34 359.85 L633.75 359.12 L635.17 358.40 L636.58 357.68 L638.00 356.96 L639.42 356.24 L640.85 355.53 L642.28 354.81 L643.71 354.10 L645.15 353.39 L646.59 352.68 L648.03 351.97 L649.47 351.27 L650.92 350.56 L652.37 349.86 L653.82 349.16 L655.28 348.46 L656.74 347.76 L658.20 347.07 L659.67 346.38 L661.14 345.68 L662.61 344.99 L664.09 344.30 L665.56 343.62 L667.05 342.93 L668.53 342.25 L670.02 341.57 L671.51 340.89 L673.00 340.21 L674.50 339.53 L676.00 338.86 L677.50 338.19" fill="none" stroke="#1a1a7a" stroke-width="1.4" stroke-linejoin="round"/></g><rect x="395.5" y="348.6" width="282.0" height="227.79999999999995" fill="none" stroke="#333" stroke-width="1.0"/><path d="M423.50 576.4V574.4 M451.50 576.4V572.1 M480.50 576.4V574.4 M508.50 576.4V572.1 M536.50 576.4V574.4 M564.50 576.4V572.1 M592.50 576.4V574.4 M621.50 576.4V572.1 M649.50 576.4V574.4 M395.5 547.50H397.5 M395.5 519.50H399.8 M395.5 490.50H397.5 M395.5 462.50H399.8 M395.5 434.50H397.5 M395.5 405.50H399.8 M395.5 377.50H397.5" stroke="#222" stroke-width="1.0" fill="none"/><text x="395.50" y="591.00" class="tl" text-anchor="middle">0. 0</text><text x="451.90" y="591.00" class="tl" text-anchor="middle">0. 2</text><text x="508.30" y="591.00" class="tl" text-anchor="middle">0. 4</text><text x="564.70" y="591.00" class="tl" text-anchor="middle">0. 6</text><text x="621.10" y="591.00" class="tl" text-anchor="middle">0. 8</text><text x="677.50" y="591.00" class="tl" text-anchor="middle">1. 0</text><text x="390.50" y="580.70" class="tl" text-anchor="end">0</text><text x="390.50" y="523.75" class="tl" text-anchor="end">5</text><text x="390.50" y="466.80" class="tl" text-anchor="end">10</text><text x="390.50" y="409.85" class="tl" text-anchor="end">15</text><text x="390.50" y="352.90" class="tl" text-anchor="end">20</text><text transform="translate(132.92,272.40) scale(0.9775,1)" style="font-size:19.8px" class="tt">Strain ε,%</text><text transform="translate(137.77,307.60) scale(1.0085,1)" style="font-size:21.2px" class="tt">(a)-3°C</text><text transform="translate(15.00,170.16) rotate(-90) scale(0.9630,1)" style="font-size:20.5px" class="tt">Stress σ,MPa</text><text transform="translate(477.50,269.70) scale(1.0037,1)" style="font-size:19.8px" class="tt">Strain ε,%</text><text transform="translate(495.68,307.00) scale(0.9985,1)" style="font-size:21.2px" class="tt">(b)-8°C</text><text transform="translate(340.10,169.87) rotate(-90) scale(0.9713,1)" style="font-size:20.5px" class="tt">Stress σ,MPa</text><text transform="translate(148.08,626.20) scale(1.0175,1)" style="font-size:19.8px" class="tt">Strain,ε,%</text><text transform="translate(152.89,657.80) scale(0.9880,1)" style="font-size:21.2px" class="tt">(c)-18°C</text><text transform="translate(16.60,513.79) rotate(-90) scale(0.9880,1)" style="font-size:20.5px" class="tt">Stress,σ,MPa</text><text transform="translate(495.61,617.30) scale(0.9900,1)" style="font-size:19.8px" class="tt">Strain,ε,%</text><text transform="translate(501.78,658.10) scale(0.9988,1)" style="font-size:21.2px" class="tt">(d)-28°C</text><text transform="translate(362.60,508.96) rotate(-90) scale(0.9630,1)" style="font-size:20.5px" class="tt">Stress,σ,MPa</text></svg>
</body></html>
